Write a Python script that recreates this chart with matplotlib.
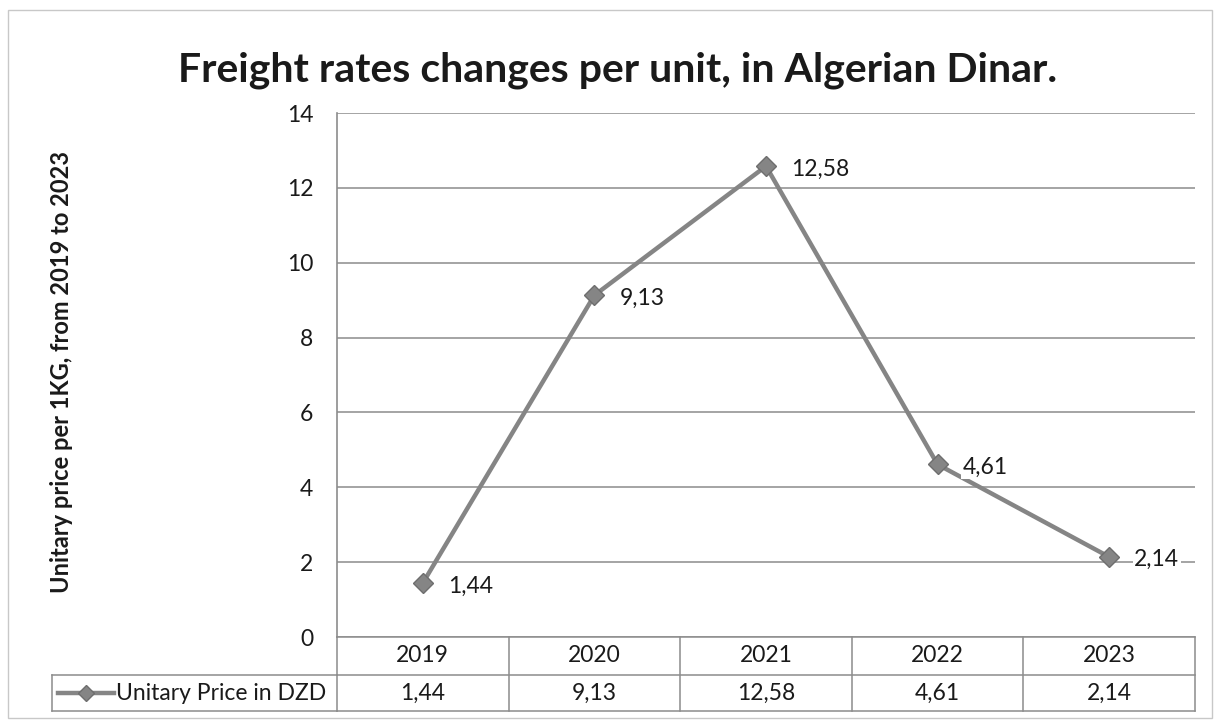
import matplotlib
matplotlib.use("Agg")
import matplotlib.pyplot as plt
from matplotlib.lines import Line2D
from matplotlib.patches import Rectangle
import matplotlib.transforms as mtransforms

years = ["2019", "2020", "2021", "2022", "2023"]
prices = [1.44, 9.13, 12.58, 4.61, 2.14]
series_name = "Unitary Price in DZD"
title = "Freight rates changes per unit, in Algerian Dinar."
ylabel = "Unitary price per 1KG, from 2019 to 2023"
yticks = [0, 2, 4, 6, 8, 10, 12, 14]

LINE = "#858585"
GRID = "#8c8c8c"
TEXT = "#1a1a1a"
FONT = "Lato"
FS = 16.5


def fmt(v):
    # decimal comma, as in the source spreadsheet
    return f"{v:.2f}".replace(".", ",")


plt.rcParams["font.family"] = [FONT, "DejaVu Sans"]

fig = plt.figure(figsize=(12.22, 7.28), dpi=100)
fig.patch.set_facecolor("white")

# outer chart frame
fig.add_artist(Rectangle((8 / 1222, 10 / 728), 1204 / 1222, 708 / 728,
                         transform=fig.transFigure, fill=False,
                         edgecolor="#c8c8c8", linewidth=1.0))

ax = fig.add_axes([337 / 1222, 1 - 637 / 728, (1195 - 337) / 1222, (637 - 113) / 728])
x = list(range(len(years)))

ax.set_xlim(-0.5, len(years) - 0.5)
ax.set_ylim(0, 14)
ax.set_yticks(yticks)
ax.set_yticklabels([str(t) for t in yticks], fontsize=FS, color=TEXT)
ax.tick_params(axis="y", length=0, pad=17)
ax.set_xticks([])
for s in ["top", "right", "bottom"]:
    ax.spines[s].set_visible(False)
ax.spines["left"].set_color(GRID)
ax.spines["left"].set_linewidth(1.2)
ax.yaxis.grid(True, color=GRID, linewidth=1.1)
ax.set_axisbelow(True)

ax.plot(x, prices, color=LINE, linewidth=3.2, marker="D", markersize=10,
        markerfacecolor=LINE, markeredgecolor="#6e6e6e", clip_on=False, zorder=3)

for xi, v in zip(x, prices):
    ax.annotate(fmt(v), (xi, v), xytext=(18, -2), textcoords="offset points",
                ha="left", va="center", fontsize=FS, color=TEXT,
                bbox=dict(facecolor="white", edgecolor="none", pad=1.0), zorder=4)

fig.text(618 / 1222, 1 - 70 / 728, title, ha="center", va="center",
         fontsize=29.5, fontweight="bold", color=TEXT)
fig.text(62 / 1222, 1 - 372 / 728, ylabel, rotation=90, ha="center", va="center",
         fontsize=17, fontweight="bold", color=TEXT)

# data table under the plot: x in data units, y in axes fraction
trans = mtransforms.blended_transform_factory(ax.transData, ax.transAxes)
h_px = 637 - 113
row1 = -38 / h_px
row2 = -74 / h_px
tkw = dict(transform=trans, color=GRID, linewidth=1.1, clip_on=False)
x0, x1 = -0.5, len(years) - 0.5
ax.add_line(Line2D([x0, x1], [0, 0], **tkw))
ax.add_line(Line2D([x0, x1], [row1, row1], **tkw))
ax.add_line(Line2D([x0, x1], [row2, row2], **tkw))
for b in range(len(years) + 1):
    ax.add_line(Line2D([b - 0.5, b - 0.5], [0, row2], **tkw))

for xi, yr, v in zip(x, years, prices):
    ax.text(xi, row1 / 2, yr, transform=trans, ha="center", va="center",
            fontsize=FS, color=TEXT)
    ax.text(xi, (row1 + row2) / 2, fmt(v), transform=trans, ha="center",
            va="center", fontsize=FS, color=TEXT)

# row header cell with the legend key
fkw = dict(transform=fig.transFigure, color=GRID, linewidth=1.1)
top_y = 1 - 675 / 728
bot_y = 1 - 711 / 728
lx0 = 52 / 1222
lx1 = 337 / 1222
fig.add_artist(Line2D([lx0, lx1], [top_y, top_y], **fkw))
fig.add_artist(Line2D([lx0, lx1], [bot_y, bot_y], **fkw))
fig.add_artist(Line2D([lx0, lx0], [top_y, bot_y], **fkw))
mid_y = (top_y + bot_y) / 2
fig.add_artist(Line2D([58 / 1222, 114 / 1222], [mid_y, mid_y], transform=fig.transFigure,
                      color=LINE, linewidth=3.2))
fig.add_artist(Line2D([86 / 1222], [mid_y], transform=fig.transFigure, color=LINE,
                      marker="D", markersize=8, markeredgecolor="#6e6e6e", linestyle="none"))
fig.text(116 / 1222, mid_y, series_name, ha="left", va="center", fontsize=FS, color=TEXT)

fig.savefig("out.png", dpi=100, facecolor="white")
